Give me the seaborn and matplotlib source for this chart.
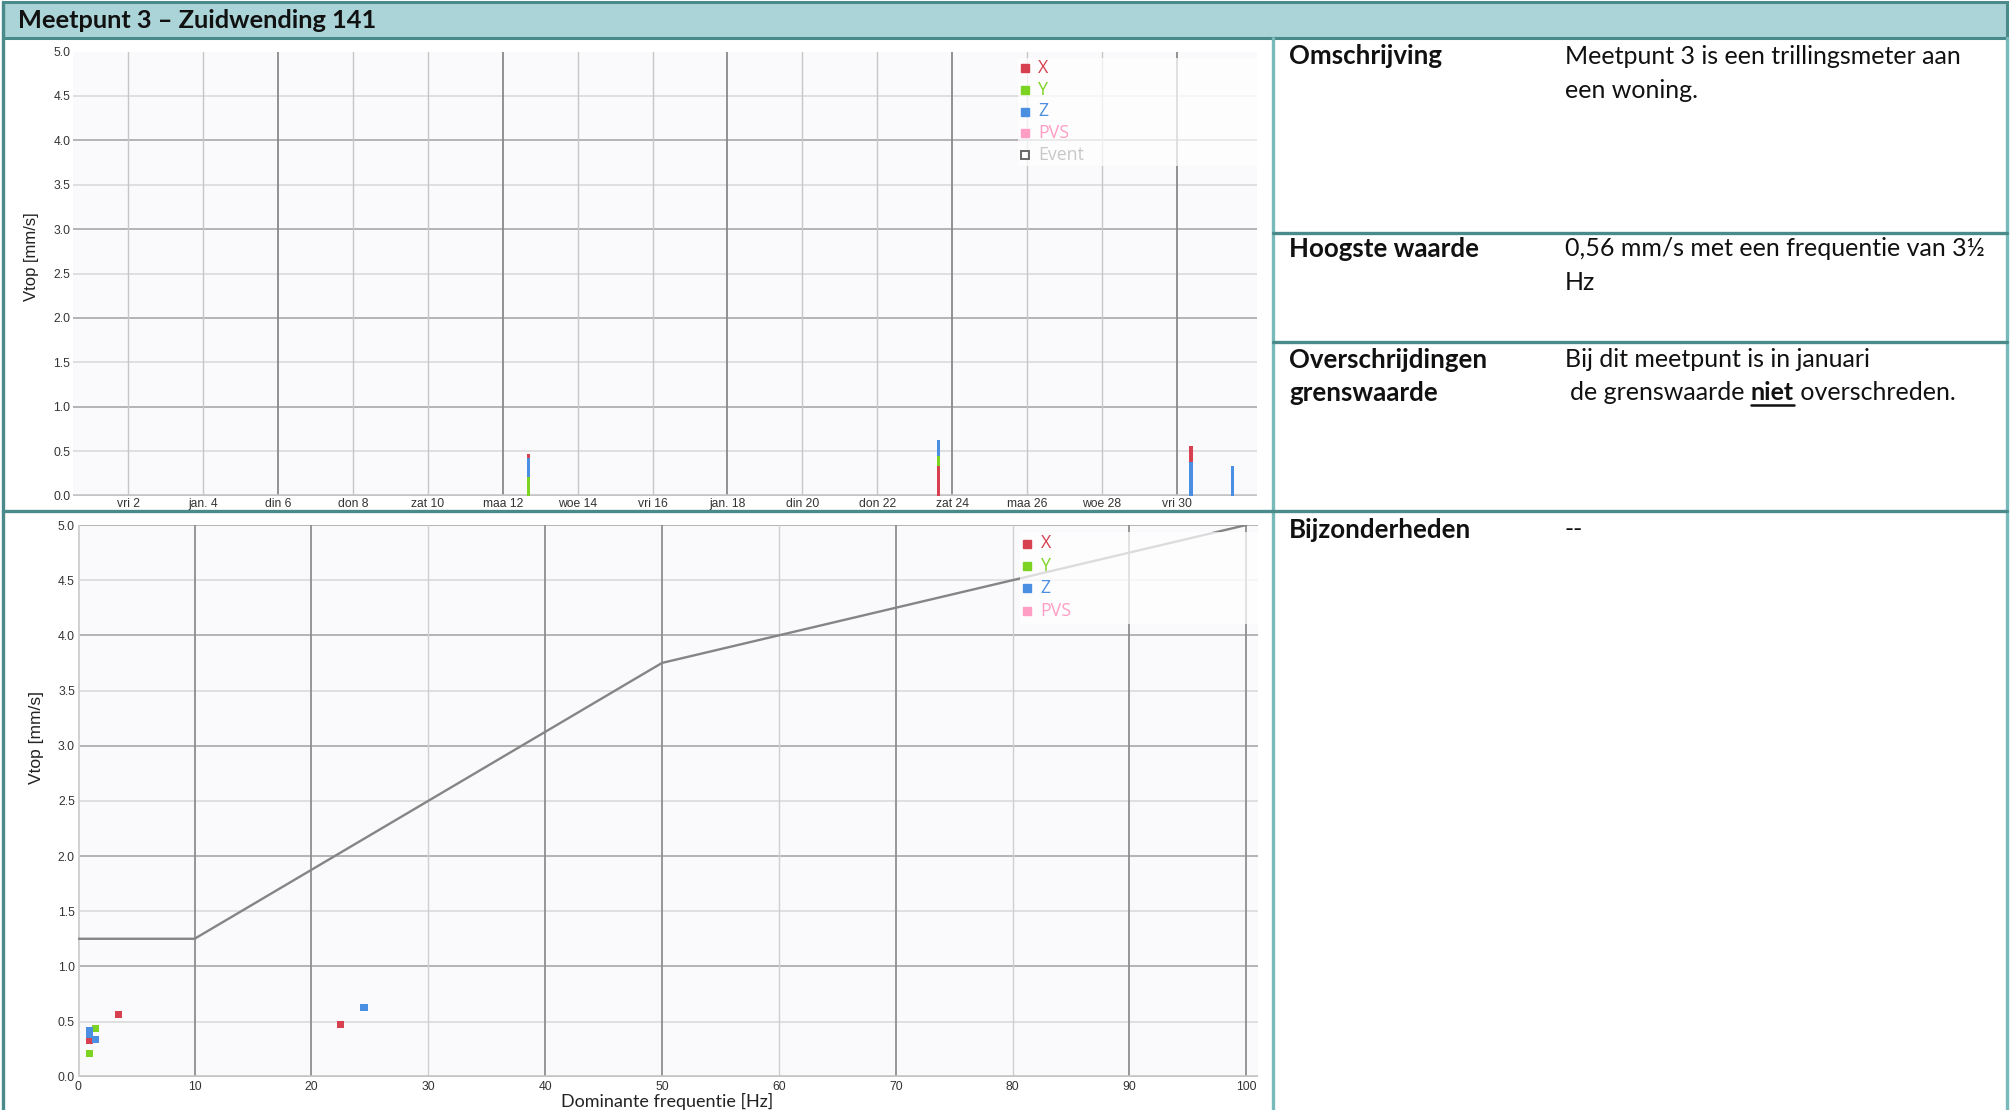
import numpy as np
import pandas as pd
import matplotlib
matplotlib.use("Agg")
import matplotlib.pyplot as plt
import matplotlib.dates as mdates
from matplotlib.patches import Rectangle
import seaborn as sns

# ---- measurements per event: peak velocity (mm/s) and dominant frequency (Hz) ----
event_times = ["2026-01-12 16:30", "2026-01-23 15:25", "2026-01-30 09:10", "2026-01-31 11:30"]
vtop_x = [0.47, 0.33, 0.56, np.nan]
vtop_y = [0.21, 0.44, np.nan, np.nan]
vtop_z = [0.42, 0.63, 0.38, 0.335]
freq_x = [22.5, 1.0, 3.5, np.nan]
freq_y = [1.0, 1.5, np.nan, np.nan]
freq_z = [1.0, 24.5, 1.0, 1.5]

# limit curve (grenswaarde)
limit_freq = [0, 10, 50, 100]
limit_vtop = [1.25, 1.25, 3.75, 5.0]

# axes ticks
date_ticks = ["2026-01-02", "2026-01-04", "2026-01-06", "2026-01-08", "2026-01-10",
              "2026-01-12", "2026-01-14", "2026-01-16", "2026-01-18", "2026-01-20",
              "2026-01-22", "2026-01-24", "2026-01-26", "2026-01-28", "2026-01-30"]
date_labels = ["vri 2", "jan. 4", "din 6", "don 8", "zat 10", "maa 12", "woe 14", "vri 16",
               "jan. 18", "din 20", "don 22", "zat 24", "maa 26", "woe 28", "vri 30"]
time_window = ["2025-12-31 12:30", "2026-02-01 03:15"]
vtop_ticks = [0.0, 0.5, 1.0, 1.5, 2.0, 2.5, 3.0, 3.5, 4.0, 4.5, 5.0]
freq_ticks = [0, 10, 20, 30, 40, 50, 60, 70, 80, 90, 100]

# info table
title_text = "Meetpunt 3 – Zuidwending 141"
info_labels = [["Omschrijving"], ["Hoogste waarde"], ["Overschrijdingen", "grenswaarde"], ["Bijzonderheden"]]
info_values = [["Meetpunt 3 is een trillingsmeter aan", "een woning."],
               ["0,56 mm/s met een frequentie van 3½", "Hz"],
               ["Bij dit meetpunt is in januari", ("de grenswaarde ", "niet", " overschreden.")],
               ["--"]]

SERIES = {"X": "#d7404f", "Y": "#7dd321", "Z": "#4a8fe2"}
PVS_COLOR = "#ff9ec4"
FRAME = "#4b8a8a"
FRAME_LIGHT = "#78b9b9"
HEADER_BG = "#aad4d8"
PLOT_BG = "#fafafc"

sns.set_theme(style="white")
plt.rcParams["font.family"] = ["Liberation Sans", "DejaVu Sans"]

W, H = 2013, 1110
fig = plt.figure(figsize=(W / 100, H / 100), dpi=100)
fig.patch.set_facecolor("white")


def box(l, t, r, b):
    return [l / W, 1 - b / H, (r - l) / W, (b - t) / H]


def to_axes(ax, x, y):
    p = ax.get_position()
    return ((x / W - p.x0) / p.width, (1 - y / H - p.y0) / p.height)


# ---- page frame, header and table ----
ov = fig.add_axes([0, 0, 1, 1], zorder=0)
ov.set_xlim(0, W)
ov.set_ylim(H, 0)
ov.axis("off")
ov.add_patch(Rectangle((3, 2), 2003.5, 36, facecolor=HEADER_BG, edgecolor=FRAME, lw=2.2))
ov.plot([3, 3], [2, H], color=FRAME, lw=2.4)
ov.plot([2006.5, 2006.5], [38, H], color=FRAME_LIGHT, lw=2.4)
ov.plot([1273, 1273], [38, H], color=FRAME_LIGHT, lw=2.4)
for yy in (232.5, 341.5):
    ov.plot([1273, 2006.5], [yy, yy], color=FRAME, lw=2.4)
ov.plot([3, 2006.5], [511, 511], color=FRAME, lw=2.4)

ov.text(18, 21, title_text, family="Lato", weight="bold", fontsize=18.3, va="center", color="#111111")

LABEL_X, VALUE_X = 1289, 1565
LABEL_SIZE, VALUE_SIZE = 18.6, 18
row_y = [[56.5, 90], [249, 282.4], [359.5, 392.8], [530]]
for labels, values, ys in zip(info_labels, info_values, row_y):
    for lab, yy in zip(labels, ys):
        ov.text(LABEL_X, yy, lab, family="Lato", weight="bold", fontsize=LABEL_SIZE, va="center",
                color="#111111")
    for val, yy in zip(values, ys):
        if isinstance(val, tuple):
            renderer = fig.canvas.get_renderer()
            x = VALUE_X + 5
            for k, part in enumerate(val):
                t = ov.text(x, yy, part, family="Lato", fontsize=VALUE_SIZE, va="center", color="#111111",
                            weight="bold" if k == 1 else "normal")
                bb = t.get_window_extent(renderer=renderer)
                if k == 1:
                    ov.plot([x, x + bb.width], [yy + 12.5, yy + 12.5], color="#111111", lw=1.8)
                x += bb.width
        else:
            ov.text(VALUE_X, yy, val, family="Lato", fontsize=VALUE_SIZE, va="center", color="#111111")

# ---- chart axes ----
ax_t = fig.add_axes(box(73, 51.5, 1256.7, 495.5), zorder=2)
ax_b = fig.add_axes(box(77.7, 525, 1258, 1076.7), zorder=2)


def style_chart(ax):
    ax.set_facecolor(PLOT_BG)
    for s in ax.spines.values():
        s.set_visible(False)
    ax.set_ylim(0, 5)
    ax.set_yticks(vtop_ticks)
    ax.set_yticklabels([f"{v:.1f}" for v in vtop_ticks])
    for v in vtop_ticks[1:]:
        ax.axhline(v, color="#a0a0a0" if v % 1 == 0 else "#d8d8d8", lw=1.1, zorder=1)
    ax.axhline(0, color="#c4c4c4", lw=2.6, zorder=2)
    ax.tick_params(length=0, labelsize=8.7, colors="#333333", pad=2)
    ax.grid(False)
    ax.set_xlabel("")
    ax.set_ylabel("")


# ---- top: Vtop per event over time ----
style_chart(ax_t)
tick_num = mdates.date2num(pd.to_datetime(date_ticks).to_numpy())
for i, t in enumerate(tick_num):
    ax_t.axvline(t, color="#888888" if i % 3 == 2 else "#c6c6c6", lw=1.3 if i % 3 == 2 else 1.0, zorder=1)
ax_t.set_xticks(tick_num)
ax_t.set_xticklabels(date_labels)
win = mdates.date2num(pd.to_datetime(time_window).to_numpy())
ax_t.set_xlim(win[0], win[1])

ev_num = mdates.date2num(pd.to_datetime(event_times).to_numpy())
for t, vals in zip(ev_num, zip(vtop_x, vtop_y, vtop_z)):
    comps = [(v, c) for v, c in zip(vals, SERIES.values()) if not np.isnan(v)]
    comps.sort(key=lambda p: -p[0])
    for k, (v, c) in enumerate(comps):
        ax_t.bar(t, v, width=0.085, color=c, linewidth=0, zorder=3 + k)

# ---- bottom: Vtop against dominant frequency ----
style_chart(ax_b)
for f in freq_ticks:
    dark = f in (10, 20, 40, 50, 70, 90, 100)
    ax_b.axvline(f, color="#8e8e8e" if dark else "#cfcfcf", lw=1.3 if dark else 1.0, zorder=1)
ax_b.axvline(0, color="#d0d0d0", lw=2.0, zorder=2)

sns.lineplot(x=limit_freq, y=limit_vtop, color="#858585", lw=1.7, ax=ax_b, zorder=4)

scatter_df = pd.DataFrame({
    "as": ["X"] * len(vtop_x) + ["Y"] * len(vtop_y) + ["Z"] * len(vtop_z),
    "freq": freq_x + freq_y + freq_z,
    "vtop": vtop_x + vtop_y + vtop_z,
}).dropna()
sns.scatterplot(data=scatter_df, x="freq", y="vtop", hue="as", palette=SERIES, marker="s",
                s=26, linewidth=0, legend=False, ax=ax_b, zorder=6)
ax_b.set_xlim(0, 101)
ax_b.set_xticks(freq_ticks)
ax_b.set_xticklabels([str(f) for f in freq_ticks])
ax_b.tick_params(axis="x", pad=3)
ax_b.set_xlabel("")
ax_b.set_ylabel("")


# ---- legends ----
def draw_legend(ax, bg, entries, marker_x, text_x, rows):
    x0, y1 = to_axes(ax, bg[0], bg[3])
    x1, y0 = to_axes(ax, bg[2], bg[1])
    ax.add_patch(Rectangle((x0, y1), x1 - x0, y0 - y1, transform=ax.transAxes,
                           facecolor="white", alpha=0.72, edgecolor="none", zorder=8, clip_on=False))
    for (label, color, hollow), ry in zip(entries, rows):
        mx, my = to_axes(ax, marker_x, ry)
        tx, ty = to_axes(ax, text_x, ry)
        if hollow:
            ax.plot([mx], [my], marker="s", ms=6.2, mfc="none", mec="#666666", mew=1.4,
                    ls="none", transform=ax.transAxes, zorder=9, clip_on=False)
            tcol = "#c8c8c8"
        else:
            ax.plot([mx], [my], marker="s", ms=6.2, color=color, ls="none",
                    transform=ax.transAxes, zorder=9, clip_on=False)
            tcol = color
        ax.text(tx, ty, label, transform=ax.transAxes, color=tcol, fontsize=12.8,
                family="Open Sans", va="center", ha="left", zorder=10)


legend_top = [("X", SERIES["X"], False), ("Y", SERIES["Y"], False), ("Z", SERIES["Z"], False),
              ("PVS", PVS_COLOR, False), ("Event", None, True)]
legend_bottom = legend_top[:4]
draw_legend(ax_t, (1018, 58, 1256.7, 166), legend_top, 1025, 1038, [67.7, 90, 111.5, 133, 155])
draw_legend(ax_b, (1020, 532, 1258, 624), legend_bottom, 1027, 1040.5, [543.5, 565.5, 588, 610.5])

# ---- axis titles ----
ov.text(31.5, 256.8, "Vtop [mm/s]", rotation=90, fontsize=12, va="center", ha="center", color="#222222")
ov.text(36, 738, "Vtop [mm/s]", rotation=90, fontsize=12.5, va="center", ha="center", color="#222222")
ov.text(667.6, 1093, "Dominante frequentie [Hz]", family="Lato", fontsize=13, va="top", ha="center",
        color="#222222")

fig.savefig("out.png", dpi=100, facecolor="white")
